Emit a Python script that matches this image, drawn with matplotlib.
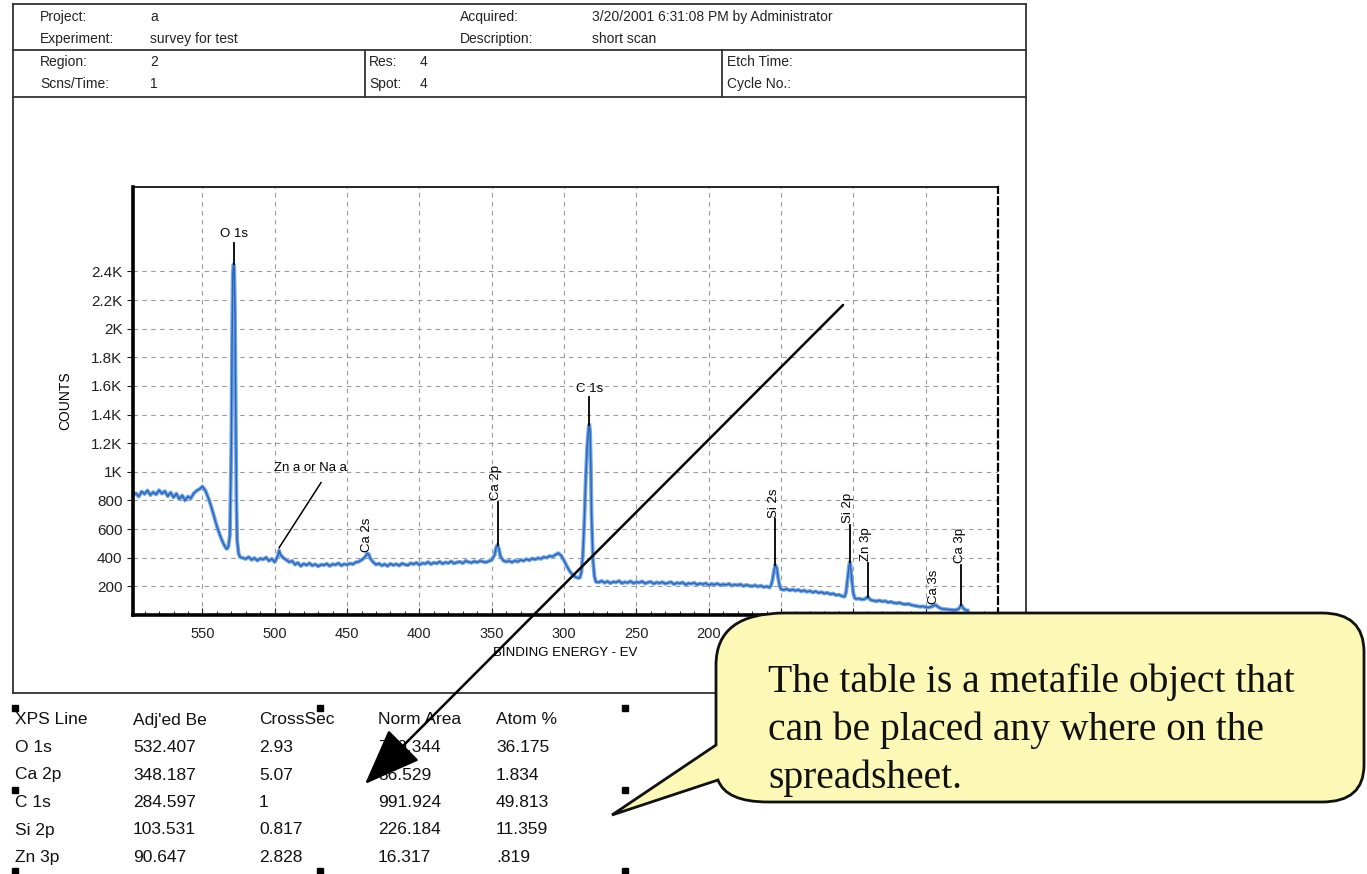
import numpy as np
import matplotlib
matplotlib.use('Agg')
import matplotlib.pyplot as plt
from matplotlib.path import Path
from matplotlib.patches import PathPatch, Rectangle
from matplotlib.ticker import FuncFormatter, MultipleLocator

# survey spectrum (binding energy eV, counts)
binding_energy = [598, 596, 594, 592, 590, 588, 586, 584, 582, 580, 578, 576, 574, 572, 570, 568, 566, 564, 562, 560,
                  558, 556, 554, 552, 550, 548, 546, 544, 542, 540, 538, 536, 534, 533, 532, 531, 530, 529.5, 529, 528.5,
                  528, 527.5, 527, 526.5, 526, 525, 524, 522, 520, 518, 516, 514, 512, 510, 508, 506, 504, 502, 500, 498,
                  497, 496, 494, 492, 490, 488, 486, 484, 482, 480, 478, 476, 474, 472, 470, 468, 466, 464, 462, 460,
                  458, 456, 454, 452, 450, 448, 446, 444, 442, 440, 438, 436, 435, 434, 432, 430, 428, 426, 424, 422,
                  420, 418, 416, 414, 412, 410, 408, 406, 404, 402, 400, 398, 396, 394, 392, 390, 388, 386, 384, 382,
                  380, 378, 376, 374, 372, 370, 368, 366, 364, 362, 360, 358, 356, 354, 352, 350, 348, 347, 346, 345,
                  344, 342, 340, 338, 336, 334, 332, 330, 328, 326, 324, 322, 320, 318, 316, 314, 312, 310, 308, 306,
                  304, 302, 300, 298, 296, 294, 292, 290, 289, 288, 287, 286, 285, 284, 283, 282.5, 282, 281.5, 281, 280,
                  279, 278, 276, 274, 272, 270, 268, 266, 264, 262, 260, 258, 256, 254, 252, 250, 248, 246, 244, 242,
                  240, 238, 236, 234, 232, 230, 228, 226, 224, 222, 220, 218, 216, 214, 212, 210, 208, 206, 204, 202,
                  200, 198, 196, 194, 192, 190, 188, 186, 184, 182, 180, 178, 176, 174, 172, 170, 168, 166, 164, 162,
                  160, 158, 157, 156, 155, 154, 153, 152, 151, 150, 148, 146, 144, 142, 140, 138, 136, 134, 132, 130,
                  128, 126, 124, 122, 120, 118, 116, 114, 112, 110, 108, 106, 105, 104, 103, 102.5, 102, 101, 100, 99,
                  98, 96, 94, 92, 91, 90, 89, 88, 86, 84, 82, 80, 78, 76, 74, 72, 70, 68, 66, 64,
                  62, 60, 58, 56, 54, 52, 50, 48, 46, 44, 43, 42, 40, 38, 36, 34, 32, 30, 28, 27,
                  26, 25.5, 25, 24, 23, 22, 21]
counts = [835, 850, 828, 862, 845, 870, 838, 858, 842, 872, 848, 865, 830, 856, 822, 848, 810, 835, 800, 828,
          815, 850, 868, 880, 898, 870, 820, 760, 690, 620, 560, 510, 470, 462, 480, 560, 1200, 1900, 2380, 2450,
          2420, 2100, 1400, 800, 520, 430, 405, 398, 392, 405, 385, 398, 380, 395, 388, 402, 378, 392, 370, 410,
          450, 420, 398, 385, 370, 378, 352, 365, 342, 358, 348, 362, 345, 355, 340, 352, 348, 358, 342, 355,
          350, 362, 345, 356, 350, 360, 355, 368, 372, 385, 400, 430, 425, 395, 370, 352, 360, 345, 355, 342,
          358, 348, 356, 345, 360, 352, 348, 362, 355, 365, 350, 362, 358, 370, 355, 366, 360, 372, 358, 368,
          362, 375, 360, 368, 372, 362, 378, 370, 365, 375, 368, 378, 372, 368, 376, 385, 420, 470, 490, 460,
          410, 380, 372, 378, 368, 380, 372, 385, 378, 390, 382, 395, 388, 398, 392, 405, 400, 412, 408, 420,
          432, 415, 380, 340, 305, 280, 265, 258, 262, 300, 420, 650, 950, 1180, 1310, 1330, 1280, 1050, 700, 380,
          270, 232, 228, 238, 225, 235, 222, 232, 228, 238, 222, 230, 225, 236, 222, 230, 226, 235, 220, 228,
          232, 218, 228, 222, 230, 218, 225, 230, 215, 225, 220, 228, 212, 222, 218, 225, 212, 220, 215, 222,
          208, 218, 212, 220, 208, 215, 210, 218, 205, 212, 208, 215, 202, 210, 205, 200, 208, 198, 205, 195,
          200, 192, 205, 240, 300, 350, 330, 260, 205, 180, 175, 182, 172, 178, 170, 176, 165, 172, 162, 168,
          158, 165, 155, 160, 150, 156, 145, 150, 138, 142, 132, 128, 160, 250, 340, 370, 350, 240, 150, 118,
          112, 115, 108, 112, 120, 126, 115, 105, 100, 96, 102, 94, 98, 88, 92, 85, 82, 86, 78, 74,
          78, 70, 66, 62, 58, 60, 55, 52, 58, 68, 70, 60, 48, 42, 40, 38, 36, 34, 38, 45,
          60, 70, 65, 48, 38, 34, 32]

# peak annotations: name, energy, peak height
peak_names = ['O 1s', 'Ca 2s', 'Ca 2p', 'C 1s', 'Si 2s', 'Si 2p', 'Zn 3p', 'Ca 3s', 'Ca 3p']
peak_ev = [528.5, 435.5, 346, 282.5, 154, 102.5, 90, 43, 25.5]
peak_top = [2450, 430, 490, 1330, 350, 370, 126, 70, 70]

# header fields
header_top = [('Project:', 'a'), ('Experiment:', 'survey for test')]
header_top_right = [('Acquired:', '3/20/2001 6:31:08 PM by Administrator'), ('Description:', 'short scan')]
header_mid = [('Region:', '2'), ('Scns/Time:', '1')]
header_mid2 = [('Res:', '4'), ('Spot:', '4')]
header_mid3 = ['Etch Time:', 'Cycle No.:']

# quantification table
table_cols = ['XPS Line', "Adj'ed Be", 'CrossSec', 'Norm Area', 'Atom %']
xps_line = ['O 1s', 'Ca 2p', 'C 1s', 'Si 2p', 'Zn 3p']
adj_be = ['532.407', '348.187', '284.597', '103.531', '90.647']
cross_sec = ['2.93', '5.07', '1', '0.817', '2.828']
norm_area = ['720.344', '36.529', '991.924', '226.184', '16.317']
atom_pct = ['36.175', '1.834', '49.813', '11.359', '.819']

callout_lines = ['The table is a metafile object that', 'can be placed any where on the', 'spreadsheet.']

W, H = 1367, 874
fig = plt.figure(figsize=(W / 100, H / 100), dpi=100)
sans = ['Liberation Sans', 'DejaVu Sans']
narrow = ['Liberation Sans Narrow', 'Liberation Sans', 'DejaVu Sans']
serif = ['Liberation Serif', 'DejaVu Serif']

# spectrum axes, placed in pixel terms
ax_l, ax_r, ax_t, ax_b = 133, 998, 187, 615
ax = fig.add_axes([ax_l / W, 1 - ax_b / H, (ax_r - ax_l) / W, (ax_b - ax_t) / H])
ax.plot(binding_energy, counts, color='#6fa6e8', lw=2.8, solid_joinstyle='round')
ax.plot(binding_energy, counts, color='#2c62b8', lw=1.0)
ax.set_xlim(598, 0)
ax.set_ylim(0, 2990)
ax.set_xticks(np.arange(550, 0, -50))
ax.set_yticks(np.arange(200, 2401, 200))
ax.xaxis.set_minor_locator(MultipleLocator(10))


def kfmt(v, pos):
    if v >= 1000:
        s = ('%.1f' % (v / 1000)).rstrip('0').rstrip('.')
        return s + 'K'
    return '%d' % v


ax.yaxis.set_major_formatter(FuncFormatter(kfmt))
ax.grid(True, color='#9a9a9a', ls=(0, (4, 4)), lw=0.8)
ax.tick_params(axis='x', direction='in', length=5, labelsize=10.5, pad=9, colors='#222222')
ax.tick_params(axis='x', which='minor', direction='in', length=3)
ax.tick_params(axis='y', direction='out', length=4, labelsize=11, colors='#222222')
for lab in ax.get_xticklabels() + ax.get_yticklabels():
    lab.set_family(sans)
ax.spines['left'].set_linewidth(2.6)
ax.spines['bottom'].set_linewidth(2.6)
ax.spines['top'].set_linewidth(1.2)
ax.spines['right'].set_linestyle((0, (3, 2)))
ax.spines['right'].set_linewidth(1.6)
ax.set_ylabel('COUNTS', family=sans, fontsize=10, labelpad=14)
ax.set_xlabel('BINDING ENERGY - EV', family=sans, fontsize=9.5, labelpad=4)

# peak labels with marker lines (offsets are layout only)
label_gap = {'O 1s': 150, 'Ca 2s': 0, 'Ca 2p': 300, 'C 1s': 190, 'Si 2s': 320,
             'Si 2p': 260, 'Zn 3p': 240, 'Ca 3s': 0, 'Ca 3p': 280}
for name, ev, top in zip(peak_names, peak_ev, peak_top):
    gap = label_gap[name]
    if gap:
        ax.plot([ev, ev], [top, top + gap], color='black', lw=1.3)
    if name in ('O 1s', 'C 1s'):
        ax.text(ev, top + gap + 20, name, ha='center', va='bottom', fontsize=9.5, family=sans)
    else:
        ax.text(ev + 1, top + gap + 10, name, ha='center', va='bottom', rotation=90, fontsize=9.5, family=sans)
ax.text(475, 1030, 'Zn a or Na a', ha='center', va='center', fontsize=9.5, family=sans)
ax.plot([468, 497], [925, 470], color='black', lw=1.1)

# overlay in pixel coordinates for the report frame, table, arrow, callout
ov = fig.add_axes([0, 0, 1, 1], zorder=5)
ov.set_xlim(0, W)
ov.set_ylim(H, 0)
ov.axis('off')
ov.patch.set_alpha(0)

fx0, fx1 = 13, 1026
lk = dict(color='#333333', lw=1.3)
ov.plot([fx0, fx1], [4, 4], **lk)
ov.plot([fx0, fx1], [50, 50], **lk)
ov.plot([fx0, fx1], [97, 97], **lk)
ov.plot([fx0, fx0], [4, 693], **lk)
ov.plot([fx1, fx1], [4, 693], **lk)
ov.plot([fx0, fx1], [693, 693], **lk)
ov.plot([365, 365], [50, 97], **lk)
ov.plot([722, 722], [50, 97], **lk)

hk = dict(fontsize=10, family=sans, va='center', color='#222222')
for i, (k, v) in enumerate(header_top):
    ov.text(40, 17 + 22 * i, k, **hk)
    ov.text(150, 17 + 22 * i, v, **hk)
for i, (k, v) in enumerate(header_top_right):
    ov.text(460, 17 + 22 * i, k, **hk)
    ov.text(592, 17 + 22 * i, v, **hk)
for i, (k, v) in enumerate(header_mid):
    ov.text(40, 62 + 22 * i, k, **hk)
    ov.text(150, 62 + 22 * i, v, **hk)
for i, (k, v) in enumerate(header_mid2):
    ov.text(369, 62 + 22 * i, k, **hk)
    ov.text(420, 62 + 22 * i, v, **hk)
for i, k in enumerate(header_mid3):
    ov.text(727, 62 + 22 * i, k, **hk)

# table
col_x = [15, 133, 259, 378, 496]
row_y0, row_dy = 720, 27.5
columns = [[table_cols[0]] + xps_line, [table_cols[1]] + adj_be, [table_cols[2]] + cross_sec,
           [table_cols[3]] + norm_area, [table_cols[4]] + atom_pct]
for x, col in zip(col_x, columns):
    for j, txt in enumerate(col):
        ov.text(x, row_y0 + row_dy * j, txt, fontsize=12.5, family=narrow, va='center', color='#111111')
for hx, hy in [(15, 708), (320, 708), (625, 708), (15, 790), (625, 790), (15, 871), (320, 871), (625, 871)]:
    ov.add_patch(Rectangle((hx - 3, hy - 3), 6, 6, color='black'))

# big arrow to the table
ov.annotate('', xy=(365, 784), xytext=(843, 305),
            arrowprops=dict(arrowstyle='-|>,head_length=0.9,head_width=0.35', lw=1.8,
                            color='black', mutation_scale=40, shrinkA=0, shrinkB=0))

# callout balloon
verts = [(716, 745), (716, 665), (716, 613), (785, 613), (1322, 613), (1364, 613), (1364, 652),
         (1364, 765), (1364, 802), (1322, 802), (768, 802), (726, 802), (718, 780), (612, 815), (716, 745)]
codes = [Path.MOVETO, Path.LINETO, Path.CURVE3, Path.CURVE3, Path.LINETO, Path.CURVE3, Path.CURVE3,
         Path.LINETO, Path.CURVE3, Path.CURVE3, Path.LINETO, Path.CURVE3, Path.CURVE3, Path.LINETO, Path.CLOSEPOLY]
ov.add_patch(PathPatch(Path(verts, codes), facecolor='#fcf9b6', edgecolor='#111111', lw=2.0, zorder=6))
for i, line in enumerate(callout_lines):
    ov.text(768, 682 + 48 * i, line, fontsize=28.5, family=serif, va='center', color='#111111', zorder=7)

fig.savefig('out.png', dpi=100)
